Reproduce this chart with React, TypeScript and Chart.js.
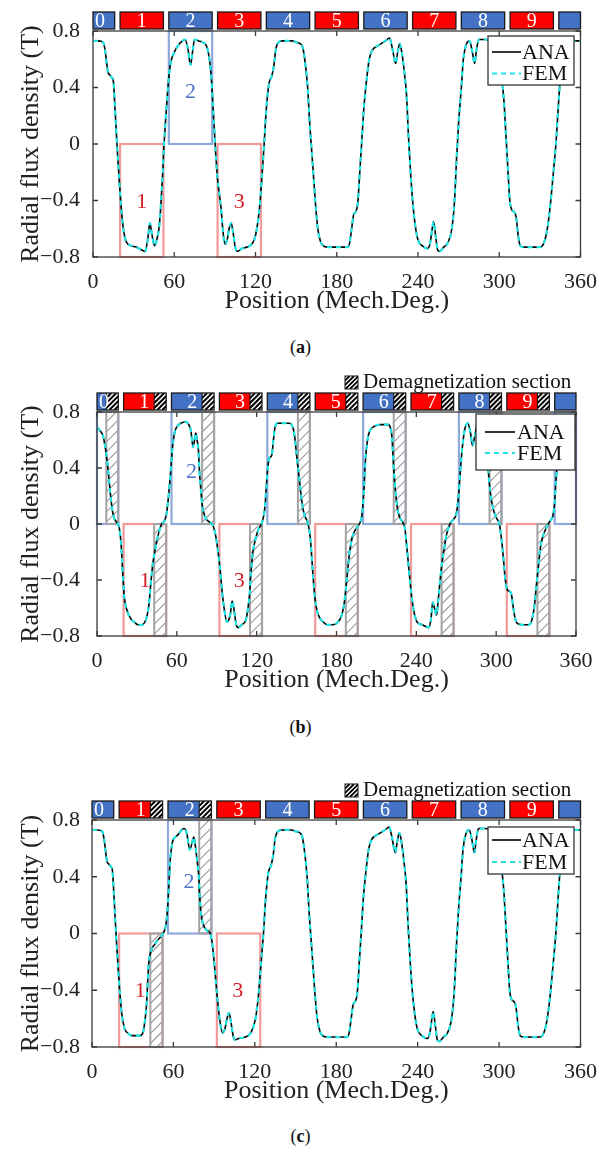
import React, { useEffect, useRef } from "react";
import { Chart, registerables } from "chart.js";
Chart.register(...registerables);

const SERIF = "'Liberation Serif', 'Times New Roman', Times, serif";

// ---------- axes ----------
const X_TICKS = [0, 60, 120, 180, 240, 300, 360];
const Y_TICKS = [-0.8, -0.4, 0, 0.4, 0.8];
const X_TITLE = "Position (Mech.Deg.)";
const Y_TITLE = "Radial flux density (T)";
const SERIES_NAMES = ["ANA", "FEM"];
const DEMAG_TEXT = "Demagnetization section";

// ---------- magnets (mech. deg) ----------
const POLE_CENTERS = [0, 36, 72, 108, 144, 180, 216, 252, 288, 324, 360];
const POLE_NAMES = ["0", "1", "2", "3", "4", "5", "6", "7", "8", "9", ""];
const POLE_HALF = 16;
const DEMAG_FROM = 7; // demagnetized part: centre+7 .. centre+16

// ---------- panel (a) : healthy ----------
const A_HEAD_DEG = [0, 4, 7.5, 9, 10, 11, 12.3, 14, 15.1, 16, 17, 18, 19.3, 20.6, 22,
  23.5, 25, 28, 32, 36, 38.5, 40.5, 42, 43.5, 45.5, 47, 48.7, 50, 51.5, 52.5,
  53.5, 55, 56.5, 58, 60, 63, 66, 68, 70, 72, 73.5, 75, 78, 81, 84, 86, 87.5, 89, 90.5,
  92, 94.5, 96, 97.5, 99, 100.5, 102, 103.5, 105, 106.5, 110, 116, 119, 121, 123, 125, 126.5];
const A_HEAD_VAL = [0.73, 0.73, 0.72, 0.66, 0.58, 0.51, 0.49, 0.47, 0.44, 0.3, 0.12, -0.05, -0.25, -0.42, -0.57,
  -0.66, -0.7, -0.72, -0.73, -0.75, -0.76, -0.67, -0.56, -0.64, -0.72, -0.68, -0.6, -0.45, -0.2, 0,
  0.15, 0.36, 0.52, 0.6, 0.65, 0.7, 0.73, 0.74, 0.68, 0.56, 0.65, 0.74, 0.73, 0.72, 0.69, 0.6, 0.45, 0.2, -0.05,
  -0.25, -0.45, -0.62, -0.71, -0.68, -0.6, -0.56, -0.63, -0.73, -0.76, -0.74, -0.72, -0.68, -0.6, -0.45, -0.2, 0.02];

// common part of (a) and (c) from 128 deg on
const TAIL_DEG = [128, 130, 132, 133.5, 135, 137, 140, 147, 150, 153, 155, 157, 158.5, 160, 161.5,
  163, 164.5, 166, 168, 170, 173, 188, 189.5, 191, 192.5, 194, 195.5, 197, 198.5,
  200, 202, 204, 206, 211, 216, 219, 221, 223.5, 225, 226.5, 228, 230, 231.5, 233, 234.5,
  236, 238, 240, 243, 247, 249, 250.5, 251.5, 253, 254.5, 256, 259, 262, 265, 267, 268.5, 270,
  272, 273.5, 275.5, 278, 280, 281.8, 283, 284.8, 290, 295, 298, 300, 302, 303.5, 305, 306.5,
  307.8, 309.5, 311, 312.5, 314, 315.5, 318, 330, 333, 335.5, 337.5, 340, 342, 343.5, 345, 347, 349, 351, 360];
const TAIL_VAL = [0.25, 0.43, 0.48, 0.55, 0.67, 0.72, 0.73, 0.73, 0.72, 0.71, 0.68, 0.55, 0.4, 0.15, -0.05,
  -0.25, -0.45, -0.6, -0.69, -0.72, -0.73, -0.73, -0.7, -0.6, -0.5, -0.48, -0.42, -0.2, 0.02,
  0.25, 0.45, 0.6, 0.66, 0.7, 0.73, 0.75, 0.68, 0.57, 0.65, 0.71, 0.65, 0.5, 0.35, 0.05, -0.2,
  -0.4, -0.58, -0.68, -0.72, -0.74, -0.7, -0.6, -0.55, -0.65, -0.75, -0.76, -0.73, -0.7, -0.6, -0.4, -0.1, 0.15,
  0.4, 0.6, 0.7, 0.73, 0.66, 0.57, 0.65, 0.74, 0.74, 0.72, 0.68, 0.6, 0.45, 0.3, 0.05, -0.2,
  -0.4, -0.47, -0.48, -0.52, -0.65, -0.72, -0.73, -0.73, -0.7, -0.6, -0.45, -0.2, 0.02, 0.25, 0.45, 0.62, 0.7, 0.73, 0.73];

const A_DEG = [...A_HEAD_DEG, ...TAIL_DEG];
const A_ANA = [...A_HEAD_VAL, ...TAIL_VAL];
const A_FEM = A_ANA;

// ---------- panel (b) : all poles partly demagnetized ----------
const B_DEG = [0, 2, 4.5, 6, 7.5, 8.5, 10, 11.5, 13, 15, 16.5, 17.5, 18.5, 19.5, 20.5, 22, 25, 28, 31, 34, 36,
  37.5, 39, 40.5, 42, 43.8, 45.5, 47, 48.5, 50.5, 52, 53, 54, 55, 56.8, 58.5, 60.5, 63, 66.8, 69, 70.5,
  72.2, 73.3, 74.2, 75.2, 76.2, 77, 78, 79, 80.5, 82.5, 85, 87.5, 89.5, 91, 92.5, 94, 95.5, 97.7,
  100.1, 101.6, 103.1, 104.6, 106.2, 108.7, 111.7, 113.2, 114.7, 115.7, 117.2, 119.3, 121.3, 123.6,
  125.3, 126.3, 127.5, 128.6, 129.5, 131.3, 132.6, 133.8, 135.8, 144.6, 147.5, 148.9, 149.9, 151.1,
  152.3, 153.7, 155, 156.5, 158, 159.5, 160.5, 161.5, 163, 164.5, 166.8, 170, 173, 177.1, 181.1,
  183.6, 185.6, 187.2, 188.7, 190.2, 191.7, 193.7, 195.7, 197.2, 198.7, 199.7, 200.7, 201.7, 203.3,
  204.8, 208.9, 213.3, 218.9, 220.4, 221.7, 222.7, 223.7, 224.9, 226.2, 227.9, 229.9, 231.4, 232.4,
  233.4, 235, 236.5, 238.5, 240.5, 244.5, 249.3, 251, 252.3, 253.6, 255.2, 256.1, 257.1, 258.1,
  259.6, 260.9, 262.6, 265.2, 267.7, 270.2, 271.7, 272.9, 273.9, 275.2, 276.5, 278.7, 280.7, 282.2,
  283.8, 285.3, 286.8, 289.8, 291.8, 293.3, 294.8, 296.3, 298.3, 300.4, 302.4, 303.9, 305.4, 306.9,
  308.4, 309.9, 311.4, 312.9, 314.4, 315.9, 320, 324.5, 327, 328.8, 330.2, 331.8, 333.1, 334.7,
  336.6, 339.1, 341.1, 342.7, 343.9, 344.9, 346.1, 347.7, 349.2, 352, 357, 360];
const B_ANA = [0.69, 0.67, 0.63, 0.56, 0.46, 0.37, 0.22, 0.1, 0.04, 0.01, -0.02, -0.08, -0.2, -0.38, -0.52, -0.6, -0.67, -0.7, -0.72, -0.72, -0.7,
  -0.66, -0.58, -0.42, -0.28, -0.18, -0.1, -0.04, 0, 0.02, 0.06, 0.13, 0.22, 0.33, 0.55, 0.66, 0.7, 0.72, 0.73, 0.71, 0.67,
  0.55, 0.6, 0.65, 0.6, 0.53, 0.38, 0.25, 0.14, 0.07, 0.03, 0.01, -0.02, -0.1, -0.2, -0.32, -0.48, -0.6, -0.7,
  -0.65, -0.55, -0.62, -0.72, -0.74, -0.72, -0.69, -0.62, -0.5, -0.35, -0.2, -0.1, -0.04, 0,
  0.06, 0.13, 0.3, 0.42, 0.47, 0.49, 0.6, 0.69, 0.72, 0.72, 0.68, 0.6, 0.5, 0.4,
  0.3, 0.18, 0.1, 0.05, 0.02, -0.04, -0.12, -0.25, -0.45, -0.58, -0.66, -0.7, -0.72, -0.72, -0.7,
  -0.66, -0.58, -0.45, -0.3, -0.18, -0.1, -0.05, -0.02, 0, 0.04, 0.12, 0.25, 0.45, 0.6,
  0.66, 0.7, 0.71, 0.71, 0.69, 0.62, 0.45, 0.3, 0.18, 0.09, 0.04, 0.01, -0.03, -0.12,
  -0.22, -0.38, -0.52, -0.64, -0.7, -0.72, -0.74, -0.68, -0.56, -0.6, -0.65, -0.58, -0.48, -0.38,
  -0.26, -0.18, -0.08, 0, 0.03, 0.08, 0.2, 0.35, 0.48, 0.6, 0.68, 0.72, 0.65, 0.56,
  0.62, 0.7, 0.72, 0.7, 0.62, 0.48, 0.3, 0.18, 0.09, 0.04, 0, -0.1, -0.24, -0.4,
  -0.47, -0.48, -0.5, -0.6, -0.68, -0.71, -0.72, -0.72, -0.68, -0.58, -0.44, -0.3, -0.18, -0.1,
  -0.05, 0, 0.03, 0.06, 0.15, 0.3, 0.45, 0.6, 0.66, 0.69, 0.7, 0.7];
const B_FEM = B_ANA;

// ---------- panel (c) : poles 1 and 2 partly demagnetized ----------
const C_HEAD_DEG = [0, 4, 7.5, 9, 10, 11, 12.3, 14, 15.1, 16, 17, 18, 19.3, 20.4, 22, 24, 26, 29.7, 35.4, 37, 38,
  39.2, 40.2, 41, 41.9, 43, 44, 46, 48, 50, 52.4,
  54.3, 55.2, 56, 56.8, 57.5, 58.5, 59.4, 61.5, 63.7, 66, 68, 70, 72, 73.5, 75, 76, 77, 78, 78.7, 79.3,
  80, 81, 82.5, 85, 87.2, 88.3, 89.2, 90.5,
  92, 94, 96.2, 98, 99.5, 101, 102.5, 104, 105.3, 108, 113, 117, 120.5, 122.5, 124.5, 126.5];
const C_HEAD_VAL = [0.73, 0.73, 0.72, 0.66, 0.58, 0.51, 0.49, 0.47, 0.44, 0.3, 0.12, -0.05, -0.25, -0.4, -0.57, -0.67, -0.7, -0.72, -0.72, -0.71, -0.68,
  -0.6, -0.5, -0.35, -0.2, -0.14, -0.11, -0.08, -0.05, -0.03, 0,
  0.05, 0.12, 0.22, 0.36, 0.5, 0.6, 0.65, 0.68, 0.7, 0.73, 0.74, 0.7, 0.59, 0.63, 0.68, 0.63, 0.55, 0.47, 0.4, 0.28,
  0.18, 0.1, 0.05, 0.02, 0, -0.05, -0.12, -0.25,
  -0.42, -0.6, -0.7, -0.67, -0.6, -0.56, -0.63, -0.72, -0.75, -0.74, -0.73, -0.7, -0.6, -0.45, -0.22, 0.02];
const C_DEG = [...C_HEAD_DEG, ...TAIL_DEG];
const C_ANA = [...C_HEAD_VAL, ...TAIL_VAL];
const C_FEM = C_ANA;

// ---------- annotations ----------
const A_BOX_POLES = [1, 2, 3];
const A_HATCH_POLES: number[] = [];
const B_BOX_POLES = [0, 1, 2, 3, 4, 5, 6, 7, 8, 9, 10];
const B_HATCH_POLES = [0, 1, 2, 3, 4, 5, 6, 7, 8, 9];
const C_BOX_POLES = [1, 2, 3];
const C_HATCH_POLES = [1, 2];
const A_BOX_LABELS = [{ t: "1", x: 36, y: -0.41 }, { t: "2", x: 72, y: 0.37 }, { t: "3", x: 108, y: -0.41 }];
const B_BOX_LABELS = [{ t: "1", x: 36, y: -0.41 }, { t: "2", x: 71, y: 0.37 }, { t: "3", x: 107, y: -0.41 }];
const C_BOX_LABELS = [{ t: "1", x: 35.5, y: -0.41 }, { t: "2", x: 71.5, y: 0.36 }, { t: "3", x: 107.5, y: -0.41 }];

// ---------- colours ----------
const BLUE = "#4472C4";
const RED = "#FF0000";
const BLUE_BOX = "#8FA9DB";
const RED_BOX = "#F29A9A";
const BLUE_TXT = "#4E73C2";
const RED_TXT = "#D01F26";
const HATCH_GREY = "#9A9A9A";
const CYAN = "#22E3E3";
const FRAME = "#3A3A3A";

// ---------- layout (page px) ----------
const PANELS = [
  {
    id: "a", canvasTop: 0, plotTop: 31, plotBottom: 257, plotLeft: 93, plotRight: 581,
    deg: A_DEG, ana: A_ANA, fem: A_FEM, boxes: A_BOX_POLES, hatches: A_HATCH_POLES, labels: A_BOX_LABELS,
    demag: false, centerNums: true,
    legend: { x0: 488, y0: 36, x1: 574, y1: 85, lx0: 492, lx1: 521, tx: 522, r1: 52, r2: 73.5 },
    caption: "a", captionY: 347,
  },
  {
    id: "b", canvasTop: 370, plotTop: 412, plotBottom: 636, plotLeft: 97, plotRight: 576,
    deg: B_DEG, ana: B_ANA, fem: B_FEM, boxes: B_BOX_POLES, hatches: B_HATCH_POLES, labels: B_BOX_LABELS,
    demag: true, centerNums: false,
    legend: { x0: 476, y0: 414, x1: 575, y1: 470, lx0: 485, lx1: 515, tx: 517, r1: 432, r2: 453 },
    caption: "b", captionY: 727,
  },
  {
    id: "c", canvasTop: 760, plotTop: 820, plotBottom: 1047, plotLeft: 92, plotRight: 581,
    deg: C_DEG, ana: C_ANA, fem: C_FEM, boxes: C_BOX_POLES, hatches: C_HATCH_POLES, labels: C_BOX_LABELS,
    demag: true, centerNums: true,
    legend: { x0: 488, y0: 827, x1: 574, y1: 874, lx0: 492, lx1: 521, tx: 522, r1: 840, r2: 862 },
    caption: "c", captionY: 1136,
  },
];

const X_AXIS_H = 60;

function hatch(ctx: CanvasRenderingContext2D, x0: number, y0: number, x1: number, y1: number,
  spacing: number, color: string, lw: number, bg: string | null) {
  ctx.save();
  ctx.beginPath();
  ctx.rect(x0, y0, x1 - x0, y1 - y0);
  ctx.clip();
  if (bg) { ctx.fillStyle = bg; ctx.fillRect(x0, y0, x1 - x0, y1 - y0); }
  ctx.strokeStyle = color;
  ctx.lineWidth = lw;
  ctx.beginPath();
  const h = y1 - y0;
  for (let s = x0 - h; s < x1 + spacing; s += spacing) {
    ctx.moveTo(s, y1);
    ctx.lineTo(s + h, y0);
  }
  ctx.stroke();
  ctx.restore();
}

function poleSpan(k: number) {
  return [Math.max(0, POLE_CENTERS[k] - POLE_HALF), Math.min(360, POLE_CENTERS[k] + POLE_HALF)];
}

function makePlugin(p: any) {
  return {
    id: "deco_" + p.id,
    beforeDatasetsDraw(chart: any) {
      const ctx = chart.ctx as CanvasRenderingContext2D;
      const xs = chart.scales.x, ys = chart.scales.y;
      ctx.save();
      for (const k of p.boxes) {
        const [a, b] = poleSpan(k);
        const pos = k % 2 === 0;
        const x0 = xs.getPixelForValue(a), x1 = xs.getPixelForValue(b);
        const y0 = ys.getPixelForValue(pos ? 0.8 : 0), y1 = ys.getPixelForValue(pos ? 0 : -0.8);
        ctx.strokeStyle = pos ? BLUE_BOX : RED_BOX;
        ctx.lineWidth = 2.2;
        ctx.strokeRect(x0, y0, x1 - x0, y1 - y0);
      }
      for (const k of p.hatches) {
        const pos = k % 2 === 0;
        const h0 = xs.getPixelForValue(POLE_CENTERS[k] + DEMAG_FROM);
        const h1 = xs.getPixelForValue(Math.min(360, POLE_CENTERS[k] + POLE_HALF));
        const y0 = ys.getPixelForValue(pos ? 0.8 : 0), y1 = ys.getPixelForValue(pos ? 0 : -0.8);
        hatch(ctx, h0, y0, h1, y1, 10, HATCH_GREY, 1.1, null);
        ctx.strokeStyle = "#A3A3A3";
        ctx.lineWidth = 2;
        ctx.strokeRect(h0, y0, h1 - h0, y1 - y0);
      }
      ctx.restore();
    },
    afterDatasetsDraw(chart: any) {
      const ctx = chart.ctx as CanvasRenderingContext2D;
      const xs = chart.scales.x, ys = chart.scales.y;
      const { left, right, top, bottom } = chart.chartArea;
      const off = p.canvasTop;
      ctx.save();
      // frame + inward ticks
      ctx.strokeStyle = FRAME;
      ctx.lineWidth = 1.3;
      ctx.strokeRect(left, top, right - left, bottom - top);
      ctx.beginPath();
      for (const v of X_TICKS) {
        const px = xs.getPixelForValue(v);
        ctx.moveTo(px, bottom); ctx.lineTo(px, bottom - 5);
        ctx.moveTo(px, top); ctx.lineTo(px, top + 5);
      }
      for (const v of Y_TICKS) {
        const py = ys.getPixelForValue(v);
        ctx.moveTo(left, py); ctx.lineTo(left + 5, py);
        ctx.moveTo(right, py); ctx.lineTo(right - 5, py);
      }
      ctx.stroke();

      // box labels
      ctx.font = `22px ${SERIF}`;
      ctx.textAlign = "center";
      ctx.textBaseline = "middle";
      for (const l of p.labels) {
        const n = parseInt(l.t, 10);
        ctx.fillStyle = n % 2 === 0 ? BLUE_TXT : RED_TXT;
        ctx.fillText(l.t, xs.getPixelForValue(l.x), ys.getPixelForValue(l.y));
      }

      // legend
      const L = p.legend;
      ctx.fillStyle = "#fff";
      ctx.fillRect(L.x0, L.y0 - off, L.x1 - L.x0, L.y1 - L.y0);
      ctx.strokeStyle = "#333";
      ctx.lineWidth = 1.3;
      ctx.strokeRect(L.x0, L.y0 - off, L.x1 - L.x0, L.y1 - L.y0);
      ctx.lineWidth = 1.6;
      ctx.strokeStyle = "#000";
      ctx.beginPath(); ctx.moveTo(L.lx0, L.r1 - off); ctx.lineTo(L.lx1, L.r1 - off); ctx.stroke();
      ctx.strokeStyle = CYAN;
      ctx.lineWidth = 2;
      ctx.setLineDash([5, 4]);
      ctx.beginPath(); ctx.moveTo(L.lx0, L.r2 - off); ctx.lineTo(L.lx1, L.r2 - off); ctx.stroke();
      ctx.setLineDash([]);
      ctx.fillStyle = "#111";
      ctx.font = `22px ${SERIF}`;
      ctx.textAlign = "left";
      ctx.fillText(SERIES_NAMES[0], L.tx, L.r1 - off + 1);
      ctx.fillText(SERIES_NAMES[1], L.tx, L.r2 - off + 1);

      // magnet bar
      const yb0 = top - 19, yb1 = top - 2;
      for (let k = 0; k < POLE_CENTERS.length; k++) {
        const [a, b] = poleSpan(k);
        const x0 = xs.getPixelForValue(a), x1 = xs.getPixelForValue(b);
        ctx.fillStyle = k % 2 === 0 ? BLUE : RED;
        ctx.fillRect(x0, yb0, x1 - x0, yb1 - yb0);
        const hatched = p.hatches.includes(k);
        let hx = x1;
        if (hatched) {
          hx = xs.getPixelForValue(POLE_CENTERS[k] + DEMAG_FROM);
          hatch(ctx, hx, yb0, x1, yb1, 5, "#000", 2, "#fff");
          ctx.strokeStyle = "#111"; ctx.lineWidth = 1;
          ctx.beginPath(); ctx.moveTo(hx, yb0); ctx.lineTo(hx, yb1); ctx.stroke();
        }
        ctx.strokeStyle = "#1a1a1a";
        ctx.lineWidth = 1.3;
        ctx.strokeRect(x0, yb0, x1 - x0, yb1 - yb0);
        if (POLE_NAMES[k]) {
          let cx: number;
          if (k === 0) cx = x0 + 7;
          else if (p.centerNums || !hatched) cx = xs.getPixelForValue(POLE_CENTERS[k]);
          else cx = xs.getPixelForValue(POLE_CENTERS[k] - 0.5);
          ctx.fillStyle = "#fff";
          ctx.font = `20px ${SERIF}`;
          ctx.textAlign = "center";
          ctx.textBaseline = "middle";
          ctx.fillText(POLE_NAMES[k], cx, (yb0 + yb1) / 2 + 1);
        }
      }

      // demagnetization legend
      if (p.demag) {
        const sy0 = top - 36, sy1 = top - 23;
        hatch(ctx, 345, sy0, 358, sy1, 4.5, "#000", 1.8, "#fff");
        ctx.strokeStyle = "#111"; ctx.lineWidth = 1;
        ctx.strokeRect(345, sy0, 13, sy1 - sy0);
        ctx.fillStyle = "#111";
        ctx.font = `21px ${SERIF}`;
        ctx.textAlign = "left";
        ctx.textBaseline = "middle";
        ctx.fillText(DEMAG_TEXT, 363, top - 30);
      }
      ctx.restore();
    },
  };
}

function fmtY(v: any) {
  const r = Math.round(Number(v) * 10) / 10;
  if (r === 0) return "0";
  return (r < 0 ? "\u2212" : "") + Math.abs(r).toFixed(1);
}

function PanelChart({ p }: { p: any }) {
  const ref = useRef<HTMLCanvasElement>(null);
  const h = p.plotBottom - p.canvasTop + X_AXIS_H;
  useEffect(() => {
    if (!ref.current) return;
    const pts = (ys: number[]) => p.deg.map((d: number, i: number) => ({ x: d, y: ys[i] }));
    const chart = new Chart(ref.current, {
      type: "line",
      data: {
        datasets: [
          {
            label: SERIES_NAMES[1], data: pts(p.fem), borderColor: CYAN, borderWidth: 2.2,
            borderDash: [5, 4], pointRadius: 0, cubicInterpolationMode: "monotone", fill: false, order: 0,
          },
          {
            label: SERIES_NAMES[0], data: pts(p.ana), borderColor: "#000", borderWidth: 1.6,
            pointRadius: 0, cubicInterpolationMode: "monotone", fill: false, order: 1,
          },
        ],
      },
      options: {
        responsive: false,
        animation: false,
        devicePixelRatio: 1,
        layout: { padding: { left: 0, right: 601 - p.plotRight, top: p.plotTop - p.canvasTop, bottom: 0 } },
        plugins: { legend: { display: false }, tooltip: { enabled: false } },
        scales: {
          x: {
            type: "linear", min: 0, max: 360,
            afterBuildTicks: (s: any) => { s.ticks = X_TICKS.map((v) => ({ value: v })); },
            afterFit: (s: any) => { s.height = X_AXIS_H; },
            grid: { display: false }, border: { display: false },
            ticks: { font: { family: SERIF, size: 22 }, color: "#222", padding: 4, maxRotation: 0, autoSkip: false },
            title: { display: true, text: X_TITLE, font: { family: SERIF, size: 26 }, color: "#222", padding: { top: 0, bottom: 0 } },
          },
          y: {
            type: "linear", min: -0.8, max: 0.8,
            afterBuildTicks: (s: any) => { s.ticks = Y_TICKS.map((v) => ({ value: v })); },
            afterFit: (s: any) => { s.width = p.plotLeft; },
            grid: { display: false }, border: { display: false },
            ticks: { font: { family: SERIF, size: 22 }, color: "#222", padding: p.plotLeft - 88, callback: fmtY },
            title: { display: true, text: Y_TITLE, font: { family: SERIF, size: 26 }, color: "#222", padding: { top: 16, bottom: 0 } },
          },
        },
      } as any,
      plugins: [makePlugin(p)],
    } as any);
    return () => chart.destroy();
  }, []);
  return (
    <canvas ref={ref} width={601} height={h}
      style={{ position: "absolute", left: 0, top: p.canvasTop, width: 601, height: h }} />
  );
}

export default function App() {
  return (
    <div style={{ position: "absolute", left: 0, top: 0, width: 601, height: 1161, background: "#fff", overflow: "hidden" }}>
      {PANELS.map((p) => (
        <React.Fragment key={p.id}>
          <PanelChart p={p} />
          <div style={{
            position: "absolute", left: 0, top: p.captionY - 11, width: 601, textAlign: "center",
            fontFamily: SERIF, fontSize: 18, lineHeight: "22px", color: "#111",
          }}>
            (<b>{p.caption}</b>)
          </div>
        </React.Fragment>
      ))}
    </div>
  );
}
